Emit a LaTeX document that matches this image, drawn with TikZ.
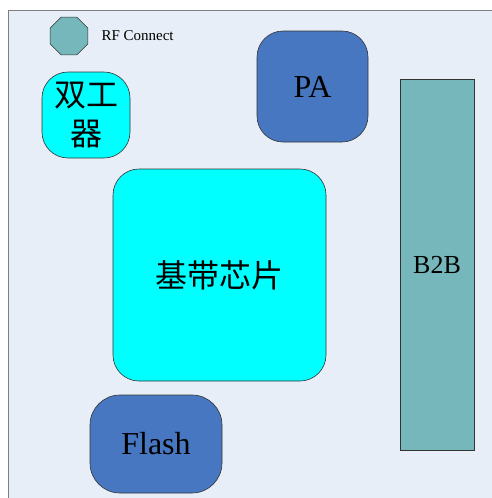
\documentclass[tikz,border=0pt]{standalone}
\usepackage{fontspec}
\setmainfont{Liberation Serif}
\newfontfamily\cjk{Noto Sans CJK SC}
\usetikzlibrary{shapes.geometric}

\definecolor{boardbg}{HTML}{E8EEF7}
\definecolor{boardline}{HTML}{808080}
\definecolor{tealpart}{HTML}{76B7BB}
\definecolor{bluepart}{HTML}{4777C1}
\definecolor{cyanpart}{HTML}{00FFFF}

\tikzset{
  part/.style={draw=black!80, line width=0.6pt, inner sep=0pt,
    font=\fontsize{32}{39}\selectfont},
  chip/.style={part, rounded corners=26pt},
}

\begin{document}
\begin{tikzpicture}[x=1pt,y=-1pt]
    \useasboundingbox (0,0) rectangle (492,498);
    \clip (0,0) rectangle (492,498);

    % Board
    \draw[boardline, fill=boardbg, line width=1pt] (8,10) rectangle (520,520);

    % RF connector
    \node[part, regular polygon, regular polygon sides=8, minimum size=41pt,
          fill=tealpart] (rf) at (69,36) {};
    \node[anchor=west, font=\fontsize{15}{15}\selectfont] (rflabel) at (98,36) {RF Connect};

    % Duplexer
    \node[chip, fill=cyanpart, minimum width=88pt, minimum height=86pt,
          align=center] (duplexer) at (86,115) {\cjk 双工\\\cjk 器};

    % PA
    \node[chip, fill=bluepart, minimum width=111pt, minimum height=111pt]
          (pa) at (312.5,86.5) {PA};

    % Baseband chip
    \node[chip, fill=cyanpart, minimum width=213pt, minimum height=212pt]
          (baseband) at (219.5,275) {\cjk 基带芯片};

    % Flash
    \node[chip, rounded corners=30pt, fill=bluepart, minimum width=132pt,
          minimum height=98pt] (flash) at (156,444) {Flash};

    % B2B connector
    \node[part, fill=tealpart, minimum width=74pt, minimum height=371pt,
          font=\fontsize{26}{26}\selectfont] (btb) at (437,264.5) {B2B};
\end{tikzpicture}
\end{document}
